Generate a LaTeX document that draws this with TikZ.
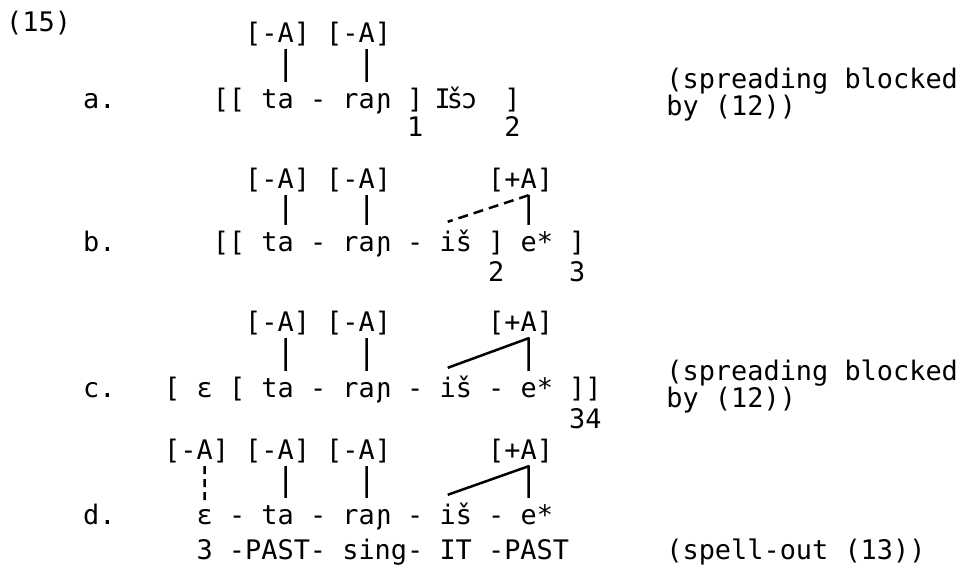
\documentclass[tikz,border=0pt]{standalone}
\usepackage{fontspec}
\newfontfamily\tw{DejaVu Sans Mono}
\def\hp{8.1pt}
\newcommand\tkn[4]{\node[tok] (#1) at ({2+16.2*(#2)},#3) {#4};}
\tikzset{
  tok/.style={font=\tw\fontsize{26.9}{30}\selectfont, inner sep=0pt, anchor=base west,
              text height=26pt, text depth=7pt},
  link/.style={line width=2.5pt, line join=round},
  dlink/.style={link, dash pattern=on 10pt off 6pt},
}
\begin{document}
\begin{tikzpicture}[x=1pt,y=-1pt]
\useasboundingbox (0,0) rectangle (962,576);
% ---------- (15) a.
\node[tok] (num) at (6,31) {(15)};
\tkn{la}{5}{108}{a.}
\tkn{fa1}{15}{42}{[-A]}
\tkn{fa2}{20}{42}{[-A]}
\tkn{bra}{13}{108}{[[}
\tkn{taa}{16}{108}{ta}
\tkn{da1}{19}{108}{-}
\tkn{rana}{21}{108}{raɲ}
\tkn{cla1}{25}{108}{]}
\tkn{isa}{26.7}{108}{I\kern-4pt š\kern-2pt ɔ}
\tkn{cla2}{31}{108}{]}
\tkn{na1}{25}{136}{1}
\tkn{na2}{31}{136}{2}
\tkn{spa}{41}{88}{(spreading blocked}
\tkn{bya}{41}{115}{by (12))}
\draw[link] ([xshift=\hp]fa1.south) -- ([xshift=\hp]taa.north);
\draw[link] ([xshift=\hp]fa2.south) -- (rana.north);
% ---------- b.
\tkn{lb}{5}{251}{b.}
\tkn{fb1}{15}{188}{[-A]}
\tkn{fb2}{20}{188}{[-A]}
\tkn{fb3}{30}{188}{[+A]}
\tkn{brb}{13}{251}{[[}
\tkn{tab}{16}{251}{ta}
\tkn{db1}{19}{251}{-}
\tkn{ranb}{21}{251}{raɲ}
\tkn{db2}{25}{251}{-}
\tkn{isb}{27}{251}{iš}
\tkn{clb1}{30}{251}{]}
\tkn{eb}{32}{251}{e*}
\tkn{clb2}{35}{251}{]}
\tkn{nb2}{30}{281}{2}
\tkn{nb3}{35}{281}{3}
\draw[link] ([xshift=\hp]fb1.south) -- ([xshift=\hp]tab.north);
\draw[link] ([xshift=\hp]fb2.south) -- (ranb.north);
\coordinate (jb) at ([xshift=\hp]fb3.south);
\draw[link] (jb) -- ([xshift=-\hp]eb.north);
\draw[dlink] (jb) -- ([xshift=-\hp,yshift=3pt]isb.north);
% ---------- c.
\tkn{lc}{5}{397}{c.}
\tkn{fc1}{15}{331}{[-A]}
\tkn{fc2}{20}{331}{[-A]}
\tkn{fc3}{30}{331}{[+A]}
\tkn{brc1}{10}{397}{[}
\tkn{epsc}{12}{397}{ɛ}
\tkn{brc2}{14}{397}{[}
\tkn{tac}{16}{397}{ta}
\tkn{dc1}{19}{397}{-}
\tkn{ranc}{21}{397}{raɲ}
\tkn{dc2}{25}{397}{-}
\tkn{isc}{27}{397}{iš}
\tkn{dc3}{30}{397}{-}
\tkn{ec}{32}{397}{e*}
\tkn{clc}{35}{397}{]]}
\tkn{nc}{35}{428}{34}
\tkn{spc}{41}{380}{(spreading blocked}
\tkn{byc}{41}{407}{by (12))}
\draw[link] ([xshift=\hp]fc1.south) -- ([xshift=\hp]tac.north);
\draw[link] ([xshift=\hp]fc2.south) -- (ranc.north);
\coordinate (jc) at ([xshift=\hp]fc3.south);
\draw[link] ([xshift=-\hp,yshift=3pt]isc.north) -- (jc) -- ([xshift=-\hp]ec.north);
% ---------- d.
\tkn{ld}{5}{524}{d.}
\tkn{fd1}{10}{459}{[-A]}
\tkn{fd2}{15}{459}{[-A]}
\tkn{fd3}{20}{459}{[-A]}
\tkn{fd4}{30}{459}{[+A]}
\tkn{epsd}{12}{524}{ɛ}
\tkn{dd1}{14}{524}{-}
\tkn{tad}{16}{524}{ta}
\tkn{dd2}{19}{524}{-}
\tkn{rand}{21}{524}{raɲ}
\tkn{dd3}{25}{524}{-}
\tkn{isd}{27}{524}{iš}
\tkn{dd4}{30}{524}{-}
\tkn{ed}{32}{524}{e*}
\tkn{gloss}{12}{559}{3 -PAST- sing- IT -PAST}
\tkn{spo}{41}{559}{(spell-out (13))}
\draw[link, dash pattern=on 8pt off 5pt] ([xshift=\hp]fd1.south) -- ([yshift=-4pt]epsd.north);
\draw[link] ([xshift=\hp]fd2.south) -- ([xshift=\hp]tad.north);
\draw[link] ([xshift=\hp]fd3.south) -- (rand.north);
\coordinate (jd) at ([xshift=\hp]fd4.south);
\draw[link] ([xshift=-\hp,yshift=3pt]isd.north) -- (jd) -- ([xshift=-\hp]ed.north);
\end{tikzpicture}
\end{document}
